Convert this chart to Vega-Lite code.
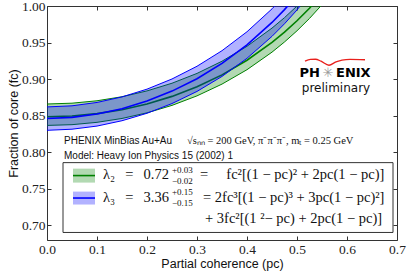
{
  "$schema": "https://vega.github.io/schema/vega-lite/v6.json",
  "width": 350,
  "height": 234,
  "autosize": "none",
  "padding": {"left": 47, "top": 6, "right": 14, "bottom": 34},
  "config": {"view": {"stroke": null}},
  "datasets": {
    "green": [
      {"x": 0, "lo": 0.8367, "mid": 0.8485, "hi": 0.866},
      {"x": 0.05, "lo": 0.8377, "mid": 0.8496, "hi": 0.8671},
      {"x": 0.1, "lo": 0.8409, "mid": 0.8528, "hi": 0.8704},
      {"x": 0.15, "lo": 0.8462, "mid": 0.8582, "hi": 0.8759},
      {"x": 0.2, "lo": 0.8539, "mid": 0.866, "hi": 0.8839},
      {"x": 0.25, "lo": 0.8641, "mid": 0.8764, "hi": 0.8944},
      {"x": 0.3, "lo": 0.8771, "mid": 0.8895, "hi": 0.9078},
      {"x": 0.35, "lo": 0.8932, "mid": 0.9058, "hi": 0.9245},
      {"x": 0.4, "lo": 0.9129, "mid": 0.9258, "hi": 0.9449},
      {"x": 0.45, "lo": 0.9369, "mid": 0.9502, "hi": 0.9698},
      {"x": 0.475, "lo": 0.9508, "mid": 0.9643, "hi": 0.9841},
      {"x": 0.5, "lo": 0.9661, "mid": 0.9798, "hi": 1.0},
      {"x": 0.525, "lo": 0.983, "mid": 0.997, "hi": 1.0175},
      {"x": 0.55, "lo": 1.0018, "mid": 1.016, "hi": 1.037}
    ],
    "blue": [
      {"x": 0, "lo": 0.83, "mid": 0.8462, "hi": 0.862},
      {"x": 0.05, "lo": 0.8315, "mid": 0.8477, "hi": 0.8635},
      {"x": 0.1, "lo": 0.8358, "mid": 0.8522, "hi": 0.8681},
      {"x": 0.15, "lo": 0.8431, "mid": 0.8596, "hi": 0.8757},
      {"x": 0.2, "lo": 0.8533, "mid": 0.87, "hi": 0.8863},
      {"x": 0.25, "lo": 0.8666, "mid": 0.8836, "hi": 0.9002},
      {"x": 0.3, "lo": 0.8832, "mid": 0.9006, "hi": 0.9176},
      {"x": 0.35, "lo": 0.9037, "mid": 0.9216, "hi": 0.9389},
      {"x": 0.4, "lo": 0.9285, "mid": 0.9469, "hi": 0.9648},
      {"x": 0.45, "lo": 0.9585, "mid": 0.9775, "hi": 0.9961},
      {"x": 0.475, "lo": 0.9757, "mid": 0.9951, "hi": 1.0141},
      {"x": 0.5, "lo": 0.9946, "mid": 1.0145, "hi": 1.0339},
      {"x": 0.55, "lo": 1.0388, "mid": 1.0594, "hi": 1.0797}
    ],
    "box": [{"x": 0.032, "x2": 0.692, "y": 0.7858, "y2": 0.6903}],
    "swatches": [
      {"series": "l2", "x": 0.052, "x2": 0.096, "y": 0.7776, "y2": 0.7585, "yc": 0.7681},
      {"series": "l3", "x": 0.052, "x2": 0.096, "y": 0.7462, "y2": 0.7285, "yc": 0.7374}
    ],
    "arc": [
      {"x": 0.516, "y": 0.9245},
      {"x": 0.527, "y": 0.927},
      {"x": 0.537, "y": 0.9272},
      {"x": 0.548, "y": 0.9245},
      {"x": 0.564, "y": 0.919},
      {"x": 0.578, "y": 0.9235},
      {"x": 0.59, "y": 0.926},
      {"x": 0.606, "y": 0.927},
      {"x": 0.636, "y": 0.9265}
    ],
    "labels": [
      {"kind": "sans", "x": 0.034, "y": 0.8158, "text": "PHENIX MinBias Au+Au"},
      {"kind": "sans", "x": 0.034, "y": 0.7954, "text": "Model: Heavy Ion Physics 15 (2002) 1"},
      {"kind": "math", "x": 0.28, "y": 0.8158, "text": "√sₙₙ = 200 GeV, π⁻π⁻π⁻, mₜ = 0.25 GeV"},
      {"kind": "legend", "x": 0.112, "y": 0.7688, "text": "λ₂\u2002\u2009=\u2002\u20090.72"},
      {"kind": "legend", "x": 0.306, "y": 0.7688, "text": "=\u2003 fc²[(1 − pc)² + 2pc(1 − pc)]"},
      {"kind": "legend", "x": 0.112, "y": 0.7381, "text": "λ₃\u2002\u2009=\u2002\u20093.36"},
      {"kind": "legend", "x": 0.312, "y": 0.7381, "text": "= 2fc³[(1 − pc)³ + 3pc(1 − pc)²]"},
      {"kind": "legend", "x": 0.316, "y": 0.7094, "text": "+ 3fc²[(1 ²− pc) + 2pc(1 − pc)]"},
      {"kind": "script", "x": 0.25, "y": 0.7763, "text": "+0.03"},
      {"kind": "script", "x": 0.25, "y": 0.7613, "text": "−0.02"},
      {"kind": "script", "x": 0.25, "y": 0.7453, "text": "+0.15"},
      {"kind": "script", "x": 0.25, "y": 0.7312, "text": "−0.15"},
      {"kind": "logoL", "x": 0.546, "y": 0.9086, "text": "PH"},
      {"kind": "logoR", "x": 0.578, "y": 0.9086, "text": "ENIX"},
      {"kind": "star", "x": 0.562, "y": 0.9086, "text": "✳"},
      {"kind": "prelim", "x": 0.578, "y": 0.8885, "text": "preliminary"}
    ]
  },
  "resolve": {"axis": {"x": "independent", "y": "independent"}},
  "layer": [
    {
      "data": {"name": "box"},
      "mark": {"type": "rect", "fill": "white", "stroke": "#333", "strokeWidth": 1},
      "encoding": {
        "x": {"field": "x", "type": "quantitative", "scale": {"domain": [0, 0.7], "nice": false, "zero": false}, "axis": null},
        "x2": {"field": "x2"},
        "y": {"field": "y", "type": "quantitative", "scale": {"domain": [0.68, 1.0], "nice": false, "zero": false}, "axis": null},
        "y2": {"field": "y2"}
      }
    },
    {
      "data": {"name": "green"},
      "mark": {"type": "area", "fill": "#008000", "opacity": 0.3, "clip": true},
      "encoding": {
        "x": {"field": "x", "type": "quantitative", "scale": {"domain": [0, 0.7], "nice": false, "zero": false},
          "axis": {"orient": "bottom", "values": [0, 0.1, 0.2, 0.3, 0.4, 0.5, 0.6, 0.7], "format": ".1f", "title": "Partial coherence (pc)", "grid": false, "tickSize": -4, "labelPadding": 6, "labelFlush": false, "labelOverlap": false, "domainColor": "#333", "tickColor": "#333", "labelFont": "Liberation Serif", "labelFontSize": 13.5, "labelColor": "#222", "titleFont": "Liberation Sans", "titleFontSize": 12.5, "titleFontWeight": "normal", "titleColor": "#111", "titlePadding": 2}},
        "y": {"field": "lo", "type": "quantitative", "scale": {"domain": [0.68, 1.0], "nice": false, "zero": false},
          "axis": {"orient": "left", "values": [0.7, 0.75, 0.8, 0.85, 0.9, 0.95, 1.0], "format": ".2f", "title": "Fraction of core (fc)", "grid": false, "tickSize": -4, "labelPadding": 6, "labelFlush": false, "labelOverlap": false, "domainColor": "#333", "tickColor": "#333", "labelFont": "Liberation Serif", "labelFontSize": 13.5, "labelColor": "#222", "titleFont": "Liberation Sans", "titleFontSize": 12.5, "titleFontWeight": "normal", "titleColor": "#111", "titlePadding": 1}},
        "y2": {"field": "hi"}
      }
    },
    {
      "data": {"name": "green"},
      "mark": {"type": "line", "stroke": "#008000", "strokeWidth": 1, "clip": true},
      "encoding": {
        "x": {"field": "x", "type": "quantitative", "scale": {"domain": [0, 0.7], "nice": false, "zero": false}, "axis": null},
        "y": {"field": "lo", "type": "quantitative", "scale": {"domain": [0.68, 1.0], "nice": false, "zero": false}, "axis": null}
      }
    },
    {
      "data": {"name": "green"},
      "mark": {"type": "line", "stroke": "#008000", "strokeWidth": 1, "clip": true},
      "encoding": {
        "x": {"field": "x", "type": "quantitative", "scale": {"domain": [0, 0.7], "nice": false, "zero": false}, "axis": null},
        "y": {"field": "hi", "type": "quantitative", "scale": {"domain": [0.68, 1.0], "nice": false, "zero": false}, "axis": null}
      }
    },
    {
      "data": {"name": "green"},
      "mark": {"type": "line", "stroke": "#008000", "strokeWidth": 1.6, "clip": true},
      "encoding": {
        "x": {"field": "x", "type": "quantitative", "scale": {"domain": [0, 0.7], "nice": false, "zero": false}, "axis": null},
        "y": {"field": "mid", "type": "quantitative", "scale": {"domain": [0.68, 1.0], "nice": false, "zero": false}, "axis": null}
      }
    },
    {
      "data": {"name": "blue"},
      "mark": {"type": "area", "fill": "#0000ff", "opacity": 0.3, "clip": true},
      "encoding": {
        "x": {"field": "x", "type": "quantitative", "scale": {"domain": [0, 0.7], "nice": false, "zero": false},
          "axis": {"orient": "top", "values": [0, 0.1, 0.2, 0.3, 0.4, 0.5, 0.6, 0.7], "labels": false, "title": null, "grid": false, "tickSize": -4, "domainColor": "#333", "tickColor": "#333"}},
        "y": {"field": "lo", "type": "quantitative", "scale": {"domain": [0.68, 1.0], "nice": false, "zero": false},
          "axis": {"orient": "right", "values": [0.7, 0.75, 0.8, 0.85, 0.9, 0.95, 1.0], "labels": false, "title": null, "grid": false, "tickSize": -4, "domainColor": "#333", "tickColor": "#333"}},
        "y2": {"field": "hi"}
      }
    },
    {
      "data": {"name": "blue"},
      "mark": {"type": "line", "stroke": "#0000ff", "strokeWidth": 1, "clip": true},
      "encoding": {
        "x": {"field": "x", "type": "quantitative", "scale": {"domain": [0, 0.7], "nice": false, "zero": false}, "axis": null},
        "y": {"field": "lo", "type": "quantitative", "scale": {"domain": [0.68, 1.0], "nice": false, "zero": false}, "axis": null}
      }
    },
    {
      "data": {"name": "blue"},
      "mark": {"type": "line", "stroke": "#0000ff", "strokeWidth": 1, "clip": true},
      "encoding": {
        "x": {"field": "x", "type": "quantitative", "scale": {"domain": [0, 0.7], "nice": false, "zero": false}, "axis": null},
        "y": {"field": "hi", "type": "quantitative", "scale": {"domain": [0.68, 1.0], "nice": false, "zero": false}, "axis": null}
      }
    },
    {
      "data": {"name": "blue"},
      "mark": {"type": "line", "stroke": "#0000ff", "strokeWidth": 1.6, "clip": true},
      "encoding": {
        "x": {"field": "x", "type": "quantitative", "scale": {"domain": [0, 0.7], "nice": false, "zero": false}, "axis": null},
        "y": {"field": "mid", "type": "quantitative", "scale": {"domain": [0.68, 1.0], "nice": false, "zero": false}, "axis": null}
      }
    },
    {
      "data": {"name": "swatches"},
      "mark": {"type": "rect", "opacity": 0.3},
      "encoding": {
        "x": {"field": "x", "type": "quantitative", "scale": {"domain": [0, 0.7], "nice": false, "zero": false}, "axis": null},
        "x2": {"field": "x2"},
        "y": {"field": "y", "type": "quantitative", "scale": {"domain": [0.68, 1.0], "nice": false, "zero": false}, "axis": null},
        "y2": {"field": "y2"},
        "color": {"field": "series", "type": "nominal", "scale": {"domain": ["l2", "l3"], "range": ["#008000", "#0000ff"]}, "legend": null}
      }
    },
    {
      "data": {"name": "swatches"},
      "mark": {"type": "rule", "strokeWidth": 1.6},
      "encoding": {
        "x": {"field": "x", "type": "quantitative", "scale": {"domain": [0, 0.7], "nice": false, "zero": false}, "axis": null},
        "x2": {"field": "x2"},
        "y": {"field": "yc", "type": "quantitative", "scale": {"domain": [0.68, 1.0], "nice": false, "zero": false}, "axis": null},
        "color": {"field": "series", "type": "nominal", "scale": {"domain": ["l2", "l3"], "range": ["#008000", "#0000ff"]}, "legend": null}
      }
    },
    {
      "data": {"name": "arc"},
      "mark": {"type": "line", "stroke": "#e8201c", "strokeWidth": 1.3, "interpolate": "monotone"},
      "encoding": {
        "x": {"field": "x", "type": "quantitative", "scale": {"domain": [0, 0.7], "nice": false, "zero": false}, "axis": null},
        "y": {"field": "y", "type": "quantitative", "scale": {"domain": [0.68, 1.0], "nice": false, "zero": false}, "axis": null}
      }
    },
    {
      "data": {"name": "labels"},
      "transform": [{"filter": "datum.kind === 'sans'"}],
      "mark": {"type": "text", "align": "left", "baseline": "middle", "font": "Liberation Sans", "fontSize": 10, "color": "#111"},
      "encoding": {
        "x": {"field": "x", "type": "quantitative", "scale": {"domain": [0, 0.7], "nice": false, "zero": false}, "axis": null},
        "y": {"field": "y", "type": "quantitative", "scale": {"domain": [0.68, 1.0], "nice": false, "zero": false}, "axis": null},
        "text": {"field": "text"}
      }
    },
    {
      "data": {"name": "labels"},
      "transform": [{"filter": "datum.kind === 'math'"}],
      "mark": {"type": "text", "align": "left", "baseline": "middle", "font": "Liberation Serif", "fontSize": 10.5, "color": "#111"},
      "encoding": {
        "x": {"field": "x", "type": "quantitative", "scale": {"domain": [0, 0.7], "nice": false, "zero": false}, "axis": null},
        "y": {"field": "y", "type": "quantitative", "scale": {"domain": [0.68, 1.0], "nice": false, "zero": false}, "axis": null},
        "text": {"field": "text"}
      }
    },
    {
      "data": {"name": "labels"},
      "transform": [{"filter": "datum.kind === 'legend'"}],
      "mark": {"type": "text", "align": "left", "baseline": "middle", "font": "Liberation Serif", "fontSize": 14.5, "color": "#111"},
      "encoding": {
        "x": {"field": "x", "type": "quantitative", "scale": {"domain": [0, 0.7], "nice": false, "zero": false}, "axis": null},
        "y": {"field": "y", "type": "quantitative", "scale": {"domain": [0.68, 1.0], "nice": false, "zero": false}, "axis": null},
        "text": {"field": "text"}
      }
    },
    {
      "data": {"name": "labels"},
      "transform": [{"filter": "datum.kind === 'script'"}],
      "mark": {"type": "text", "align": "left", "baseline": "middle", "font": "Liberation Serif", "fontSize": 9, "color": "#111"},
      "encoding": {
        "x": {"field": "x", "type": "quantitative", "scale": {"domain": [0, 0.7], "nice": false, "zero": false}, "axis": null},
        "y": {"field": "y", "type": "quantitative", "scale": {"domain": [0.68, 1.0], "nice": false, "zero": false}, "axis": null},
        "text": {"field": "text"}
      }
    },
    {
      "data": {"name": "labels"},
      "transform": [{"filter": "datum.kind === 'logoL'"}],
      "mark": {"type": "text", "align": "right", "baseline": "middle", "font": "DejaVu Sans", "fontWeight": "bold", "fontSize": 13, "color": "#000"},
      "encoding": {
        "x": {"field": "x", "type": "quantitative", "scale": {"domain": [0, 0.7], "nice": false, "zero": false}, "axis": null},
        "y": {"field": "y", "type": "quantitative", "scale": {"domain": [0.68, 1.0], "nice": false, "zero": false}, "axis": null},
        "text": {"field": "text"}
      }
    },
    {
      "data": {"name": "labels"},
      "transform": [{"filter": "datum.kind === 'logoR'"}],
      "mark": {"type": "text", "align": "left", "baseline": "middle", "font": "DejaVu Sans", "fontWeight": "bold", "fontSize": 13, "color": "#000"},
      "encoding": {
        "x": {"field": "x", "type": "quantitative", "scale": {"domain": [0, 0.7], "nice": false, "zero": false}, "axis": null},
        "y": {"field": "y", "type": "quantitative", "scale": {"domain": [0.68, 1.0], "nice": false, "zero": false}, "axis": null},
        "text": {"field": "text"}
      }
    },
    {
      "data": {"name": "labels"},
      "transform": [{"filter": "datum.kind === 'star'"}],
      "mark": {"type": "text", "align": "center", "baseline": "middle", "font": "DejaVu Sans", "fontSize": 13, "color": "#999"},
      "encoding": {
        "x": {"field": "x", "type": "quantitative", "scale": {"domain": [0, 0.7], "nice": false, "zero": false}, "axis": null},
        "y": {"field": "y", "type": "quantitative", "scale": {"domain": [0.68, 1.0], "nice": false, "zero": false}, "axis": null},
        "text": {"field": "text"}
      }
    },
    {
      "data": {"name": "labels"},
      "transform": [{"filter": "datum.kind === 'prelim'"}],
      "mark": {"type": "text", "align": "center", "baseline": "middle", "font": "DejaVu Sans", "fontSize": 12, "color": "#111"},
      "encoding": {
        "x": {"field": "x", "type": "quantitative", "scale": {"domain": [0, 0.7], "nice": false, "zero": false}, "axis": null},
        "y": {"field": "y", "type": "quantitative", "scale": {"domain": [0.68, 1.0], "nice": false, "zero": false}, "axis": null},
        "text": {"field": "text"}
      }
    }
  ]
}
